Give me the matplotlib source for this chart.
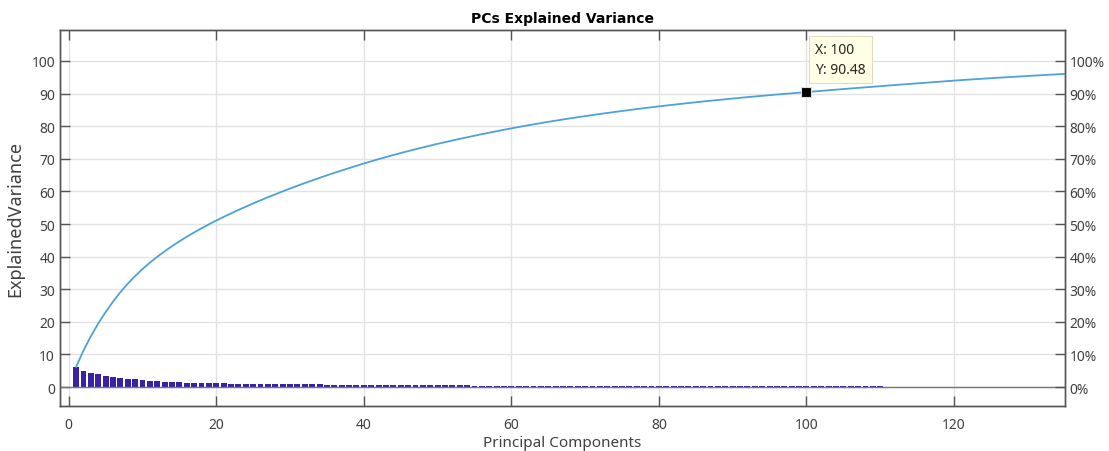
import numpy as np
import matplotlib
matplotlib.use('Agg')
import matplotlib.pyplot as plt
from matplotlib.ticker import FuncFormatter

plt.rcParams['font.family'] = ['Noto Sans', 'DejaVu Sans']

explained = [
    6.2, 5.0, 4.4, 3.9, 3.5, 3.2, 2.9, 2.6, 2.35, 2.15,
    1.95, 1.8, 1.68, 1.58, 1.48, 1.40, 1.33, 1.27, 1.21, 1.16,
    1.12, 1.08, 1.05, 1.02, 0.99, 0.96, 0.93, 0.91, 0.89, 0.87,
    0.85, 0.83, 0.81, 0.79, 0.77, 0.75, 0.74, 0.72, 0.71, 0.70,
    0.68, 0.66, 0.64, 0.62, 0.61, 0.59, 0.58, 0.56, 0.55, 0.54,
    0.52, 0.51, 0.50, 0.49, 0.48, 0.47, 0.46, 0.45, 0.44, 0.43,
    0.42, 0.41, 0.40, 0.39, 0.38, 0.37, 0.36, 0.35, 0.34, 0.34,
    0.33, 0.32, 0.31, 0.31, 0.30, 0.29, 0.29, 0.28, 0.28, 0.27,
    0.26, 0.26, 0.25, 0.25, 0.24, 0.24, 0.23, 0.23, 0.22, 0.22,
    0.22, 0.21, 0.21, 0.20, 0.20, 0.20, 0.19, 0.19, 0.19, 0.20,
    0.18, 0.18, 0.18, 0.18, 0.18, 0.18, 0.18, 0.18, 0.18, 0.18,
    0.17, 0.17, 0.17, 0.17, 0.17, 0.17, 0.17, 0.17, 0.17, 0.17,
    0.15, 0.15, 0.15, 0.14, 0.14, 0.14, 0.14, 0.14, 0.13, 0.13,
    0.13, 0.13, 0.13, 0.13, 0.12,
]
pcs = np.arange(1, len(explained) + 1)
cum = np.cumsum(explained)

tip_pc = 100

x_ticks = [0, 20, 40, 60, 80, 100, 120]
y_ticks = [0, 10, 20, 30, 40, 50, 60, 70, 80, 90, 100]

axis_col = '#555555'
grid_col = '#e3e3e3'
txt_col = '#404040'

fig = plt.figure(figsize=(11.09, 4.52), dpi=100)
ax = fig.add_axes([0.054, 0.0996, 0.906, 0.8319])

ax.bar(pcs, explained, width=0.8, color='#3a22a8', linewidth=0, zorder=3)
ax.axhline(0, color='#777777', lw=1.0, zorder=4)
ax.plot(pcs, cum, color='#4da2d8', lw=1.3, zorder=5)

# data tip
ax.plot(tip_pc, cum[tip_pc - 1], 's', color='black', ms=7, mec='#e8e0b0', mew=0.8, zorder=6)
ax.annotate('X: %d\nY: %.2f' % (tip_pc, cum[tip_pc - 1]), xy=(tip_pc, cum[tip_pc - 1]),
            xytext=(6, 11), textcoords='offset points', ha='left', va='bottom',
            fontsize=10, color='#262626', linespacing=1.45, zorder=7,
            bbox=dict(boxstyle='square,pad=0.45', fc='#ffffe6', ec='#e0dcc0', lw=0.8))

ax.set_xlim(-1.2, 135)
ax.set_ylim(-5.8, 109.5)
ax.set_xticks(x_ticks)
ax.set_yticks(y_ticks)
ax.grid(True, color=grid_col, lw=1.0, zorder=0)
ax.set_axisbelow(True)

ax.tick_params(axis='x', direction='in', top=True, bottom=True, length=7, width=1,
               color=axis_col, labelcolor=txt_col, labelsize=10, pad=8)
ax.tick_params(axis='y', direction='in', left=True, right=False, length=7, width=1,
               color=axis_col, labelcolor=txt_col, labelsize=10)
for s in ax.spines.values():
    s.set_color(axis_col)
    s.set_linewidth(1.0)

ax.set_title('PCs Explained Variance', fontsize=10, fontweight='bold',
             family='DejaVu Sans', pad=6)
ax.set_xlabel('Principal Components', fontsize=11, color=txt_col, labelpad=2)
ax.set_ylabel('ExplainedVariance', fontsize=13, color=txt_col, labelpad=5)

# right axis in percent
ax2 = ax.twinx()
ax2.set_ylim(ax.get_ylim())
ax2.set_yticks(y_ticks)
ax2.yaxis.set_major_formatter(FuncFormatter(lambda v, p: '%d%%' % v))
ax2.tick_params(axis='y', direction='in', length=7, width=1, color=axis_col,
                labelcolor=txt_col, labelsize=10)
for s in ax2.spines.values():
    s.set_color(axis_col)
    s.set_linewidth(1.0)

fig.savefig('out.png', dpi=100)
